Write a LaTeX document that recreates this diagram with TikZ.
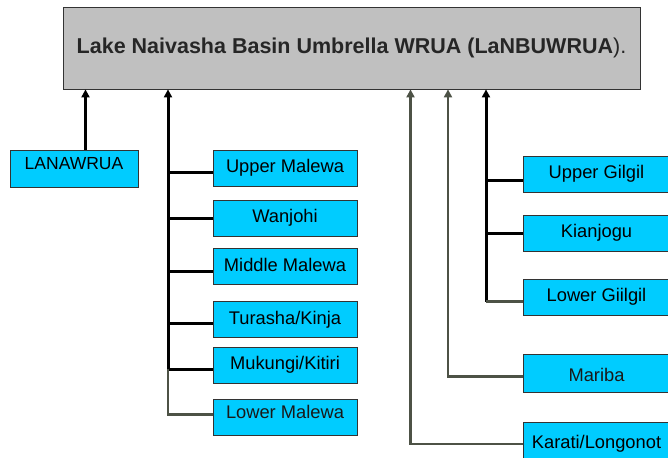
\documentclass[tikz,border=0pt]{standalone}
\usepackage{fontspec}
\setmainfont{Liberation Sans}
\usetikzlibrary{arrows.meta}
\definecolor{boxcyan}{HTML}{00CCFF}
\definecolor{topgray}{HTML}{C0C0C0}
\definecolor{linegray}{HTML}{4D5246}
\definecolor{edgegray}{HTML}{333333}
\begin{document}
\begin{tikzpicture}[x=1pt,y=-1pt,
    wrua/.style={draw=edgegray,fill=boxcyan,line width=0.8pt,minimum width=144pt,
      minimum height=36pt,inner sep=0pt,text height=13pt,text depth=4pt,
      font=\fontsize{18.3}{21}\selectfont},
    blk/.style={line width=3pt,black},
    gry/.style={line width=2.5pt,linegray},
    up/.style={-{Triangle[width=8pt,length=8pt]}}]
  \clip (0,0) rectangle (668,457);
  \node[draw=edgegray,fill=topgray,line width=0.8pt,minimum width=577pt,minimum height=82pt,
    font=\fontsize{21.5}{24}\selectfont,text=black!85] (basin) at (351.5,48)
    {\textbf{Lake Naivasha Basin Umbrella WRUA (LaNBUWRUA}).};
  \coordinate (mbus) at (168,0);
  \coordinate (kbus) at (410.5,0);
  \coordinate (rbus) at (448,0);
  \coordinate (gbus) at (486,0);
  % left
  \node[wrua,minimum width=128pt,minimum height=37pt,text depth=11pt,
    font=\fontsize{17.5}{20}\selectfont] (lanawrua) at (74,168.5) {LANAWRUA};
  % malewa
  \node[wrua] (upmalewa) at (285,168) {Upper Malewa};
  \node[wrua] (wanjohi) at (285,218.3) {Wanjohi};
  \node[wrua] (midmalewa) at (285,266.5) {Middle Malewa};
  \node[wrua] (turasha) at (285,319.7) {Turasha/Kinja};
  \node[wrua] (mukungi) at (285,365) {Mukungi/Kitiri};
  \node[wrua,text=black!90,text depth=11pt] (lowmalewa) at (285,417.7) {Lower Malewa};
  % gilgil
  \node[wrua,minimum width=147pt] (upgilgil) at (596.5,174) {Upper Gilgil};
  \node[wrua,minimum width=147pt] (kianjogu) at (596.5,233) {Kianjogu};
  \node[wrua,minimum width=147pt] (lowgilgil) at (596.5,297.2) {Lower Giilgil};
  \node[wrua,minimum width=147pt,minimum height=38pt,text=black!90,text height=17pt,text depth=0pt] (mariba) at (596.5,373.3) {Mariba};
  \node[wrua,minimum width=147pt,minimum height=38pt,text height=13pt,text depth=0pt] (karati) at (596.5,441.7) {Karati/Longonot};
  % connectors
  \draw[blk,up] ([xshift=11.5pt]lanawrua.north) -- ([xshift=11.5pt]lanawrua.north |- basin.south);
  \draw[blk,up] ([yshift=-4.3pt]mukungi.west -| mbus) -- (basin.south -| mbus);
  \draw[blk] ([yshift=-4.7pt]upmalewa.west) -- ([yshift=-4.7pt]upmalewa.west -| mbus);
  \draw[blk] (wanjohi.west) -- (wanjohi.west -| mbus);
  \draw[blk] ([yshift=-4.5pt]midmalewa.west) -- ([yshift=-4.5pt]midmalewa.west -| mbus);
  \draw[blk] ([yshift=-3.6pt]turasha.west) -- ([yshift=-3.6pt]turasha.west -| mbus);
  \draw[blk] ([yshift=-4.3pt]mukungi.west) -- ([yshift=-4.3pt]mukungi.west -| mbus);
  \draw[gry] ([yshift=3.4pt]lowmalewa.west) -| ([yshift=-4.3pt]mukungi.west -| mbus);
  \draw[blk,up] ([yshift=-4.5pt]lowgilgil.west -| gbus) -- (basin.south -| gbus);
  \draw[blk] ([yshift=-6.7pt]upgilgil.west) -- ([yshift=-6.7pt]upgilgil.west -| gbus);
  \draw[blk] (kianjogu.west) -- (kianjogu.west -| gbus);
  \draw[gry] ([yshift=-4.5pt]lowgilgil.west) -- ([yshift=-4.5pt]lowgilgil.west -| gbus);
  \draw[gry,up] ([yshift=-3.4pt]mariba.west) -| (basin.south -| rbus);
  \draw[gry,up] ([yshift=-2.3pt]karati.west) -| (basin.south -| kbus);
\end{tikzpicture}
\end{document}
